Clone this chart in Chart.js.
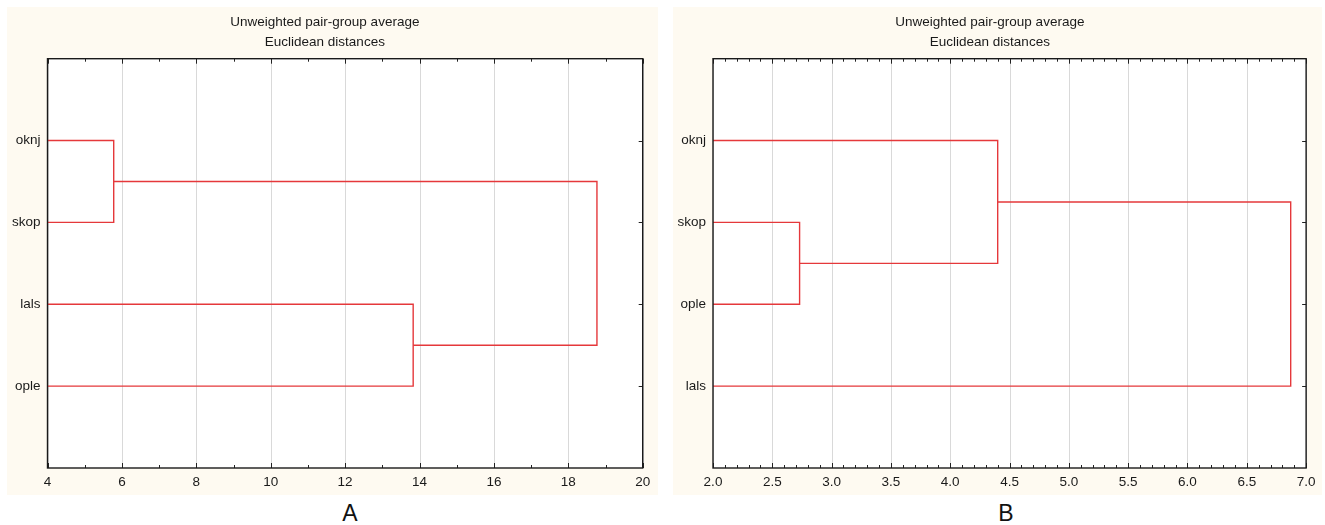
<!DOCTYPE html>
<html>
<head>
<meta charset="utf-8">
<script src="https://cdn.jsdelivr.net/npm/chart.js@4/dist/chart.umd.min.js"></script>
<style>
  html, body { margin: 0; padding: 0; background: #ffffff; }
  body { width: 1325px; height: 525px; position: relative; overflow: hidden; font-family: "Liberation Sans", Arial, sans-serif; }
  .panel { position: absolute; top: 7px; height: 488px; background: #fefaf1; }
  .panel canvas { display: block; }
  .tag { position: absolute; top: 499px; font-size: 23px; color: #111; transform: translateX(-50%); line-height: 28px; }
</style>
</head>
<body>
<div class="panel" id="panelA" style="left:7px;width:651px;"><canvas id="chartA" width="651" height="488"></canvas></div>
<div class="panel" id="panelB" style="left:673px;width:649px;"><canvas id="chartB" width="649" height="488"></canvas></div>
<div class="tag" style="left:350px;">A</div>
<div class="tag" style="left:1006px;">B</div>
<script>
// Panel A: leaves (top to bottom), agglomeration steps and axis ticks
const leavesA = ['oknj', 'skop', 'lals', 'ople'];
const mergeLeftA = [0, 2, 4];
const mergeRightA = [1, 3, 5];
const mergeDistA = [5.78, 13.83, 18.77];
const ticksA = [4, 6, 8, 10, 12, 14, 16, 18, 20];

// Panel B
const leavesB = ['oknj', 'skop', 'ople', 'lals'];
const mergeLeftB = [1, 0, 5];
const mergeRightB = [2, 4, 3];
const mergeDistB = [2.73, 4.40, 6.87];
const ticksB = [2.0, 2.5, 3.0, 3.5, 4.0, 4.5, 5.0, 5.5, 6.0, 6.5, 7.0];

const titleLines = ['Unweighted pair-group average', 'Euclidean distances'];
const LINK_COLOR = '#e5383b';
const FONT = '"Liberation Sans", Arial, sans-serif';

// Turn merge steps into U-shaped link segments (one dataset per link)
function buildLinks(leaves, left, right, dist, base) {
  const nodes = leaves.map((_, i) => ({ x: base, y: i + 1 }));
  const sets = [];
  for (let k = 0; k < dist.length; k++) {
    const a = nodes[left[k]], b = nodes[right[k]], d = dist[k];
    sets.push({
      data: [{ x: a.x, y: a.y }, { x: d, y: a.y }, { x: d, y: b.y }, { x: b.x, y: b.y }],
      showLine: true,
      borderColor: LINK_COLOR,
      borderWidth: 1.4,
      pointRadius: 0,
      tension: 0,
      fill: false
    });
    nodes.push({ x: d, y: (a.y + b.y) / 2 });
  }
  return sets;
}

// White plot area, inward ticks and a closed frame round it
const framePlugin = {
  id: 'frame',
  beforeDatasetsDraw(chart) {
    const { ctx, chartArea: a } = chart;
    ctx.save();
    ctx.fillStyle = '#ffffff';
    ctx.fillRect(a.left, a.top, a.width, a.height);
    const x = chart.scales.x;
    ctx.strokeStyle = '#d9d9d9';
    ctx.lineWidth = 1;
    x.ticks.forEach(t => {
      const px = Math.round(x.getPixelForValue(t.value)) + 0.5;
      ctx.beginPath(); ctx.moveTo(px, a.top); ctx.lineTo(px, a.bottom); ctx.stroke();
    });
    ctx.restore();
  },
  afterDatasetsDraw(chart, args, opts) {
    const { ctx, chartArea: a, scales: { x, y } } = chart;
    ctx.save();
    ctx.strokeStyle = '#222222';
    ctx.lineWidth = 1;
    const n = Math.round((x.max - x.min) / opts.minorStep);
    for (let i = 0; i <= n; i++) {
      const v = x.min + i * opts.minorStep;
      const r = (v - x.min) / opts.majorStep;
      const major = Math.abs(r - Math.round(r)) < 1e-6;
      const len = major ? 5 : 3;
      const px = Math.round(x.getPixelForValue(v)) + 0.5;
      ctx.beginPath();
      ctx.moveTo(px, a.bottom); ctx.lineTo(px, a.bottom - len);
      ctx.moveTo(px, a.top); ctx.lineTo(px, a.top + len);
      ctx.stroke();
    }
    y.ticks.forEach(t => {
      const py = Math.round(y.getPixelForValue(t.value)) + 0.5;
      ctx.beginPath();
      ctx.moveTo(a.right, py); ctx.lineTo(a.right - 4, py);
      ctx.stroke();
    });
    ctx.lineWidth = 1.4;
    ctx.strokeStyle = '#1a1a1a';
    ctx.strokeRect(a.left, a.top, a.width, a.height);
    ctx.restore();
  }
};

function makeChart(id, leaves, left, right, dist, ticks, minorStep, yWidth, decimals) {
  const xMin = ticks[0], xMax = ticks[ticks.length - 1];
  return new Chart(document.getElementById(id), {
    type: 'scatter',
    data: { datasets: buildLinks(leaves, left, right, dist, xMin) },
    plugins: [framePlugin],
    options: {
      responsive: false,
      animation: false,
      devicePixelRatio: 1,
      events: [],
      layout: { padding: { left: 0, right: 15.3, top: 0, bottom: 0 } },
      plugins: {
        legend: { display: false },
        tooltip: { enabled: false },
        title: {
          display: true,
          text: titleLines,
          color: '#1a1a1a',
          font: { family: FONT, size: 13.5, weight: 'normal', lineHeight: '20px' },
          padding: { top: 5.7, bottom: 6 }
        },
        frame: { minorStep: minorStep, majorStep: ticks[1] - ticks[0] }
      },
      scales: {
        x: {
          type: 'linear',
          min: xMin,
          max: xMax,
          afterBuildTicks: s => { s.ticks = ticks.map(v => ({ value: v })); },
          afterFit: s => { s.height = 27; },
          grid: { display: false, drawTicks: false },
          border: { display: false },
          ticks: {
            padding: 6.5,
            color: '#1a1a1a',
            font: { family: FONT, size: 13.5 },
            maxRotation: 0,
            autoSkip: false,
            callback: v => decimals ? Number(v).toFixed(decimals) : String(v)
          }
        },
        y: {
          type: 'linear',
          min: 0,
          max: leaves.length + 1,
          reverse: true,
          afterBuildTicks: s => { s.ticks = leaves.map((_, i) => ({ value: i + 1 })); },
          afterFit: s => { s.width = yWidth; },
          grid: { display: false, drawTicks: false },
          border: { display: false },
          ticks: {
            padding: 7,
            color: '#1a1a1a',
            font: { family: FONT, size: 13.5 },
            autoSkip: false,
            callback: v => leaves[Math.round(v) - 1] || ''
          }
        }
      }
    }
  });
}

makeChart('chartA', leavesA, mergeLeftA, mergeRightA, mergeDistA, ticksA, 1, 40.5, 0);
makeChart('chartB', leavesB, mergeLeftB, mergeRightB, mergeDistB, ticksB, 0.1, 40, 1);
</script>
</body>
</html>
